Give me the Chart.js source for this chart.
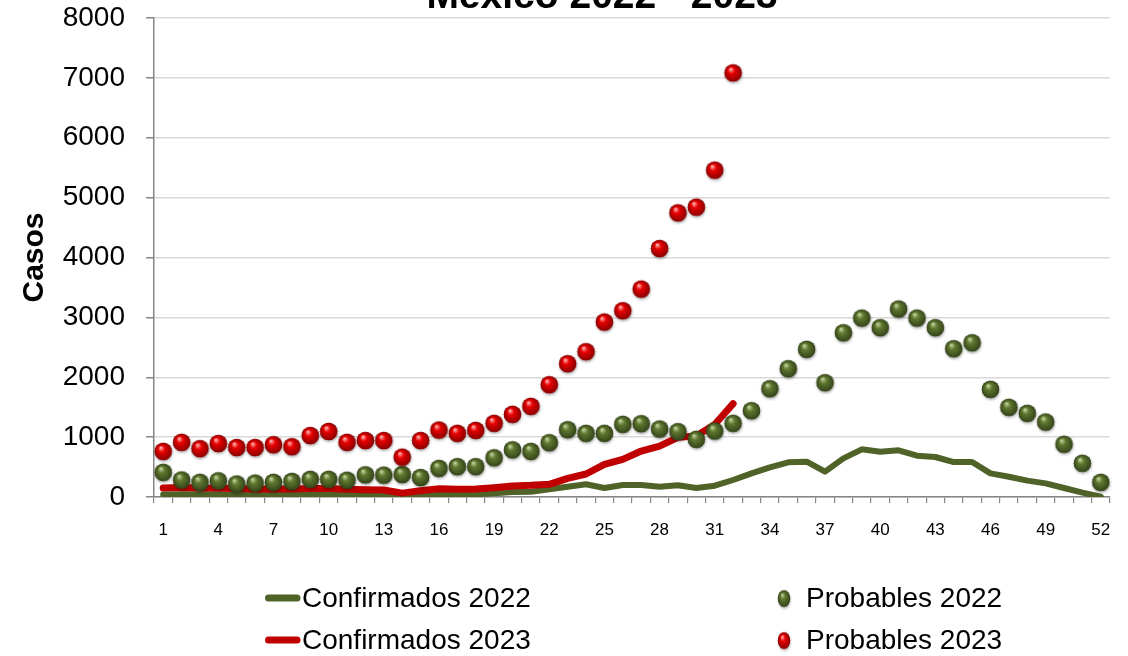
<!DOCTYPE html>
<html><head><meta charset="utf-8">
<script src="https://cdn.jsdelivr.net/npm/chart.js@4.4.1/dist/chart.umd.min.js"></script>
<style>html,body{margin:0;padding:0;background:#fff;}canvas{display:block;}</style>
</head><body>
<canvas id="c" width="1128" height="656"></canvas>
<script>
const chartTitle = 'México 2022 - 2023';
const yAxisTitle = 'Casos';
const weeks = ['1','2','3','4','5','6','7','8','9','10','11','12','13','14','15','16','17','18','19','20','21','22','23','24','25','26','27','28','29','30','31','32','33','34','35','36','37','38','39','40','41','42','43','44','45','46','47','48','49','50','51','52'];
const confirmados2022 = [40,45,45,40,35,35,35,35,45,50,40,35,30,30,30,35,40,45,61,83,89,128,172,212,150,200,200,172,195,150,189,284,395,495,579,590,423,646,796,757,779,690,668,584,584,395,339,273,228,150,72,5];
const confirmados2023 = [150,160,150,145,140,135,135,135,140,140,128,120,117,65,106,139,128,133,156,185,195,212,312,384,546,629,768,851,996,1020,1210,1560];
const probables2022 = [412,284,245,270,217,232,245,260,295,295,280,370,365,375,325,478,507,507,655,788,762,907,1124,1063,1063,1213,1224,1135,1091,963,1102,1230,1441,1808,2142,2466,1909,2743,2988,2827,3139,2988,2827,2476,2576,1798,1497,1397,1252,880,563,245];
const probables2023 = [762,913,807,893,826,826,873,840,1027,1094,913,943,943,665,943,1118,1063,1112,1230,1380,1514,1875,2226,2426,2922,3111,3472,4150,4746,4841,5459,7083];

function sphere(light, mid, dark, r) {
  const size = Math.round(r * 2 + 8);
  const c = document.createElement('canvas');
  c.width = size; c.height = size;
  const x = c.getContext('2d');
  const cx = size / 2, cy = size / 2;
  x.save();
  x.shadowColor = 'rgba(0,0,0,0.35)'; x.shadowBlur = 3; x.shadowOffsetX = 0.5; x.shadowOffsetY = 1.5;
  x.beginPath(); x.arc(cx, cy, r, 0, Math.PI * 2); x.fillStyle = dark; x.fill();
  x.restore();
  const g = x.createRadialGradient(cx - r * 0.3, cy - r * 0.45, r * 0.05, cx, cy, r);
  g.addColorStop(0, light); g.addColorStop(0.35, mid); g.addColorStop(1, dark);
  x.beginPath(); x.arc(cx, cy, r, 0, Math.PI * 2); x.fillStyle = g; x.fill();
  return c;
}
const redSphere = sphere('#ffb4b4', '#e80000', '#8a0000', 8.7);
const greenSphere = sphere('#c4d4a0', '#60782f', '#34441a', 8.7);

const legendLayout = [
  {label: 'Confirmados 2022', x: 265, y: 599},
  {label: 'Probables 2022', x: 772, y: 599},
  {label: 'Confirmados 2023', x: 265, y: 641},
  {label: 'Probables 2023', x: 772, y: 641}
];

const titlePlugin = {
  id: 'topTitle',
  afterDraw(chart) {
    const x = chart.ctx;
    x.save();
    x.font = 'bold 39px "Liberation Sans"';
    x.fillStyle = '#000';
    x.textAlign = 'center';
    x.textBaseline = 'alphabetic';
    x.fillText(chartTitle, 602, 8);
    x.restore();
  }
};

const legendPlugin = {
  id: 'gridLegend',
  afterDraw(chart) {
    const x = chart.ctx;
    x.save();
    x.font = '28px "Liberation Sans"';
    x.fillStyle = '#000';
    x.textBaseline = 'middle';
    x.textAlign = 'left';
    legendLayout.forEach(item => {
      const ds = chart.data.datasets.find(d => d.label === item.label);
      if (!ds) return;
      let tx;
      if (ds.showLine === false) {
        const img = ds.pointStyle;
        x.drawImage(img, item.x + 12 - 8.8, item.y - 12.5, 17.6, 24);
        tx = item.x + 34;
      } else {
        x.strokeStyle = ds.borderColor;
        x.lineWidth = 7;
        x.lineCap = 'round';
        x.beginPath();
        x.moveTo(item.x + 3.5, item.y - 1);
        x.lineTo(item.x + 32, item.y - 1);
        x.stroke();
        tx = item.x + 37;
      }
      x.fillStyle = '#000';
      x.fillText(item.label, tx, item.y);
    });
    x.restore();
  }
};

new Chart(document.getElementById('c'), {
  type: 'line',
  data: {
    labels: weeks,
    datasets: [
      {label: 'Probables 2023', data: probables2023, showLine: false, pointStyle: redSphere, pointRadius: 8.7, pointHoverRadius: 8.7, order: 0},
      {label: 'Probables 2022', data: probables2022, showLine: false, pointStyle: greenSphere, pointRadius: 8.7, pointHoverRadius: 8.7, order: 1},
      {label: 'Confirmados 2023', data: confirmados2023, borderColor: '#c00000', backgroundColor: '#c00000', borderWidth: 7, pointRadius: 0, borderCapStyle: 'round', borderJoinStyle: 'round', tension: 0, order: 2},
      {label: 'Confirmados 2022', data: confirmados2022, borderColor: '#4f6228', backgroundColor: '#4f6228', borderWidth: 6, pointRadius: 0, borderCapStyle: 'round', borderJoinStyle: 'round', tension: 0, order: 3}
    ]
  },
  options: {
    responsive: false,
    animation: false,
    events: [],
    layout: {padding: {left: 0, right: 18, top: 18, bottom: 119}},
    plugins: {legend: {display: false}, tooltip: {enabled: false}, title: {display: false}},
    scales: {
      x: {
        offset: true,
        grid: {display: true, drawOnChartArea: false, drawTicks: true, tickLength: 6, tickColor: '#868686', offset: true, lineWidth: 1.2},
        border: {color: '#868686', width: 1.5},
        ticks: {autoSkip: false, maxRotation: 0, minRotation: 0, padding: 17, color: '#000',
          font: {family: 'Liberation Sans', size: 17},
          callback: (v, i) => (i % 3 === 0 ? weeks[i] : '')},
        afterFit: s => { s.height = 40; s.paddingLeft = 0; s.paddingRight = 0; }
      },
      y: {
        min: 0, max: 8000,
        ticks: {stepSize: 1000, padding: 21, color: '#000', font: {family: 'Liberation Sans', size: 28},
          callback: v => String(v)},
        grid: {color: '#d9d9d9', lineWidth: 1.5, tickColor: '#868686', tickLength: 8},
        border: {color: '#868686', width: 1.5},
        title: {display: true, text: yAxisTitle, color: '#000', font: {family: 'Liberation Sans', size: 30, weight: 'bold'}, padding: {top: 17, bottom: 0}},
        afterFit: s => { s.width = 154; s.paddingTop = 0; s.paddingBottom = 0; }
      }
    }
  },
  plugins: [titlePlugin, legendPlugin]
});
</script>
</body></html>
